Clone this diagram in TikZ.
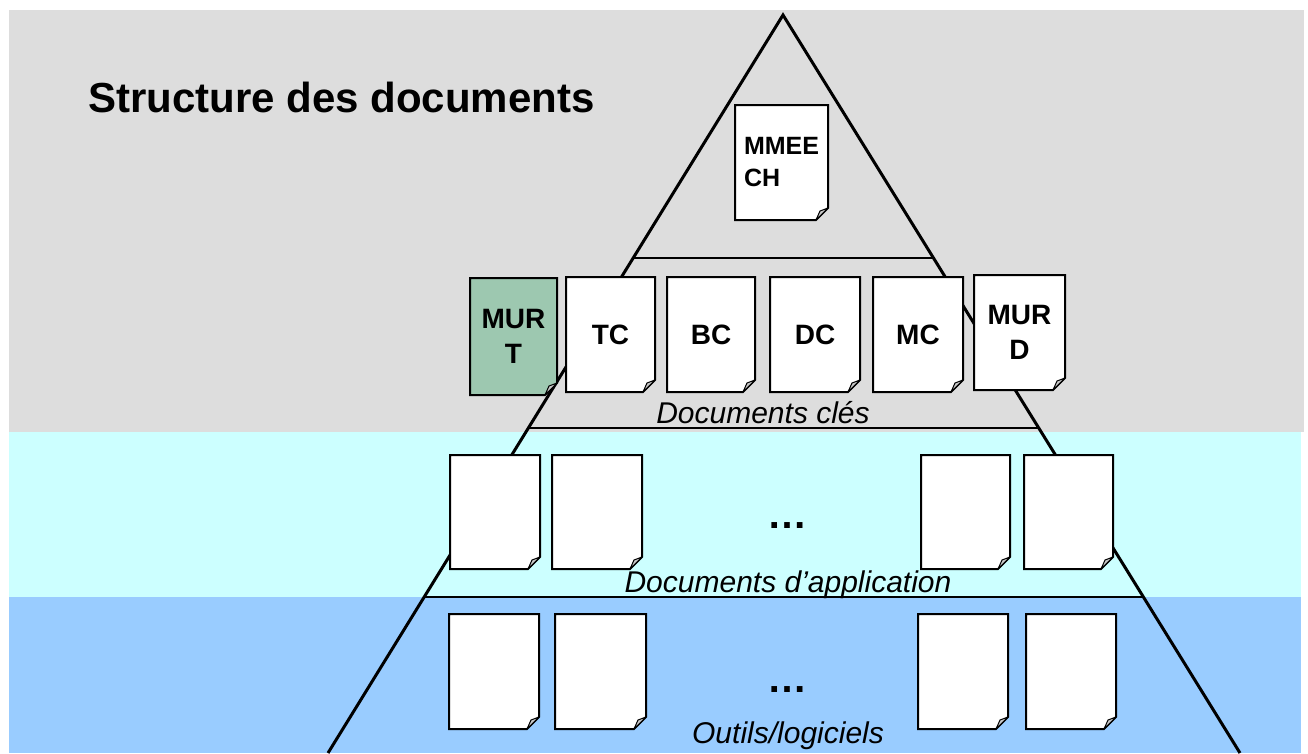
\documentclass[tikz,border=0pt]{standalone}
\usepackage{fontspec}
\setmainfont{Liberation Sans}
\usetikzlibrary{calc}
\pgfdeclarelayer{bands}
\pgfdeclarelayer{pyr}
\pgfdeclarelayer{docs}
\pgfsetlayers{bands,pyr,docs,main}
\definecolor{bggray}{HTML}{DDDDDD}
\definecolor{bgcyan}{HTML}{CCFFFF}
\definecolor{bgblue}{HTML}{99CCFF}
\definecolor{murgreen}{RGB}{157,200,176}
\definecolor{foldgray}{HTML}{C8C8C8}
\colorlet{curfill}{white}
\tikzset{
  docbox/.style={inner sep=0pt, outer sep=0pt, align=center,
    font=\bfseries\fontsize{28}{35}\selectfont},
  docline/.style={draw=black, line width=2pt, line join=miter},
  foldline/.style={draw=black, line width=1pt, line join=round, fill=foldgray},
  pyrline/.style={line width=3pt, line join=miter},
  hline/.style={line width=2pt},
  tierlabel/.style={font=\itshape\fontsize{30}{36}\selectfont, anchor=base, inner sep=0pt},
  dotslabel/.style={font=\bfseries\fontsize{40}{48}\selectfont, anchor=base, inner sep=0pt},
}
\newcommand\mkdoc[7][]{%
  \node[docbox, minimum width={(#5-#3)*1pt}, minimum height={(#6-#4)*1pt}, #1]
    (#2) at ({(#3+#5)/2},{(#4+#6)/2}) {#7};
  \begin{pgfonlayer}{docs}
    \path[docline, fill=curfill] (#2.north west) -- (#2.north east)
      -- ([yshift=12pt]#2.south east) -- ([xshift=-12pt]#2.south east)
      -- (#2.south west) -- cycle;
    \path[foldline] ([yshift=12pt]#2.south east) -- ([xshift=-12pt]#2.south east)
      -- ([xshift=-8pt,yshift=9pt]#2.south east) -- cycle;
  \end{pgfonlayer}}
\begin{document}
\begin{tikzpicture}[x=1pt,y=-1pt]
\useasboundingbox (0,0) rectangle (1308,753);
% bands
\begin{pgfonlayer}{bands}
  \fill[bggray] (9,10) rectangle (1304,432);
  \fill[bgcyan] (9,432) rectangle (1301,597);
  \fill[bgblue] (9,597) rectangle (1301,753);
\end{pgfonlayer}
% pyramid
\coordinate (apex) at (783,15);
\coordinate (bl) at (328,753);
\coordinate (br) at (1240,753);
\begin{pgfonlayer}{pyr}
  \draw[pyrline] (bl) -- (apex) -- (br);
  \draw[hline] ($(apex)!0.3293!(bl)$) -- ($(apex)!0.3293!(br)$);
  \draw[hline] ($(apex)!0.5596!(bl)$) -- ($(apex)!0.5596!(br)$);
  \draw[hline] ($(apex)!0.7886!(bl)$) -- ($(apex)!0.7886!(br)$);
\end{pgfonlayer}
% title
\node[font=\bfseries\fontsize{42}{50}\selectfont, anchor=base west, inner sep=0pt]
  (title) at (88,112) {Structure des documents};
% top document
\mkdoc[font=\bfseries\fontsize{25}{32}\selectfont, align=left]{mmeech}{735}{105}{828}{220}{MMEE\\CH}
% key documents
\colorlet{curfill}{murgreen}
\mkdoc{murt}{470}{278}{557}{395}{MUR\\T}
\colorlet{curfill}{white}
\mkdoc{tc}{566}{277}{655}{392}{TC}
\mkdoc{bc}{667}{277}{755}{392}{BC}
\mkdoc{dc}{770}{277}{860}{392}{DC}
\mkdoc{mc}{873}{277}{963}{392}{MC}
\mkdoc{murd}{974}{275}{1065}{390}{MUR\\D}
\node[tierlabel] (cles) at (763,423) {Documents clés};
% application documents
\mkdoc{a1}{450}{455}{540}{569}{}
\mkdoc{a2}{552}{455}{642}{569}{}
\mkdoc{a3}{921}{455}{1010}{569}{}
\mkdoc{a4}{1024}{455}{1113}{569}{}
\node[dotslabel] (dotsa) at (787,528) {…};
\node[tierlabel] (appl) at (788,592) {Documents d’application};
% tools
\mkdoc{b1}{449}{614}{539}{729}{}
\mkdoc{b2}{555}{614}{646}{729}{}
\mkdoc{b3}{918}{614}{1008}{729}{}
\mkdoc{b4}{1026}{614}{1116}{729}{}
\node[dotslabel] (dotsb) at (787,692) {…};
\node[tierlabel] (outils) at (788,743) {Outils/logiciels};
\end{tikzpicture}
\end{document}
